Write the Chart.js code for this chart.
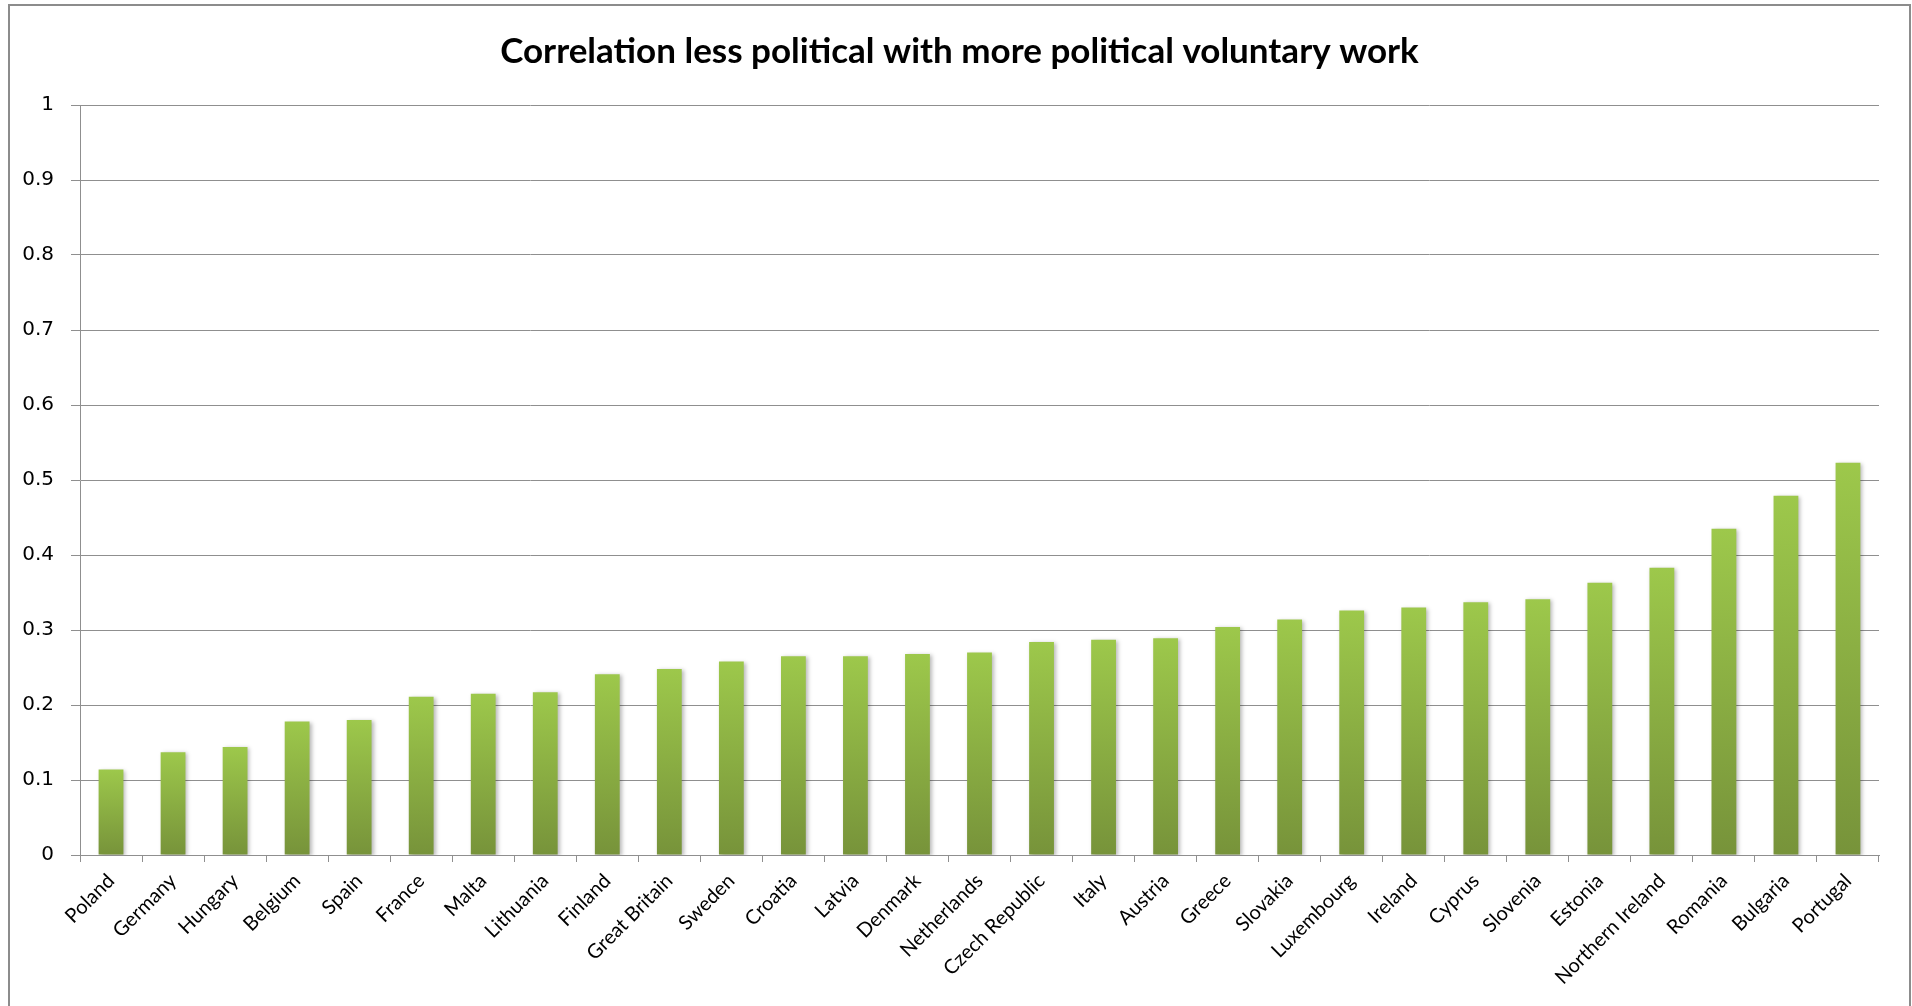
<!DOCTYPE html>
<html>
<head>
<meta charset="utf-8">
<title>Correlation less political with more political voluntary work</title>
<script src="https://cdn.jsdelivr.net/npm/chart.js@4.4.1/dist/chart.umd.min.js"></script>
<style>
    html, body {
        margin: 0;
        padding: 0;
        background: #ffffff;
        overflow: hidden;
    }
    #frame {
        position: absolute;
        left: 8px;
        top: 4px;
        width: 1899px;
        height: 1010px;
        border: 2px solid #8c8c8c;
        background: #ffffff;
    }
    #chart {
        display: block;
    }
</style>
</head>
<body>
<div id="frame">
    <canvas id="chart" width="1899" height="1000"></canvas>
</div>
<script>
'use strict'

let countries = ['Poland', 'Germany', 'Hungary', 'Belgium', 'Spain', 'France', 'Malta', 'Lithuania',
    'Finland', 'Great Britain', 'Sweden', 'Croatia', 'Latvia', 'Denmark', 'Netherlands',
    'Czech Republic', 'Italy', 'Austria', 'Greece', 'Slovakia', 'Luxembourg', 'Ireland',
    'Cyprus', 'Slovenia', 'Estonia', 'Northern Ireland', 'Romania', 'Bulgaria', 'Portugal'];

let correlation = [0.114, 0.137, 0.144, 0.178, 0.180, 0.211, 0.215, 0.217,
    0.241, 0.248, 0.258, 0.265, 0.265, 0.268, 0.270,
    0.284, 0.287, 0.289, 0.304, 0.314, 0.326, 0.330,
    0.337, 0.341, 0.363, 0.383, 0.435, 0.479, 0.523];

let yTickLabels = ['0', '0.1', '0.2', '0.3', '0.4', '0.5', '0.6', '0.7', '0.8', '0.9', '1'];

let titleText = 'Correlation less political with more political voluntary work';

let gridColor = '#8f8f8f';

// each bar gets its own light-to-dark green fade, top to bottom
function barGradient(context) {
    let chart = context.chart;
    let yScale = chart.scales.y;
    if (!chart.chartArea || !yScale) {
        return '#8db644';
    }
    let top = yScale.getPixelForValue(context.raw);
    let base = yScale.getPixelForValue(0);
    if (!isFinite(top) || !isFinite(base) || top === base) {
        return '#8db644';
    }
    let gradient = chart.ctx.createLinearGradient(0, top, 0, base);
    gradient.addColorStop(0, '#9dc84b');
    gradient.addColorStop(1, '#77933a');
    return gradient;
}

// soft shadow behind the bars, like the office chart
const barShadow = {
    id: 'barShadow',
    beforeDatasetsDraw(chart) {
        let ctx = chart.ctx;
        ctx.save();
        ctx.shadowColor = 'rgba(0, 0, 0, 0.28)';
        ctx.shadowBlur = 4;
        ctx.shadowOffsetX = 2;
        ctx.shadowOffsetY = 1;
    },
    afterDatasetsDraw(chart) {
        chart.ctx.restore();
    }
};

const data = {
    labels: countries,
    datasets: [{
        label: 'Correlation',
        data: correlation,
        backgroundColor: barGradient,
        borderWidth: 0,
        barPercentage: 0.4,
        categoryPercentage: 1
    }]
};

const config = {
    type: 'bar',
    data: data,
    plugins: [barShadow],
    options: {
        responsive: false,
        animation: false,
        layout: {
            padding: 0
        },
        plugins: {
            legend: {
                display: false
            },
            tooltip: {
                enabled: false
            },
            title: {
                display: true,
                text: titleText,
                color: '#000000',
                font: {
                    family: 'Lato',
                    size: 35,
                    weight: 'bold'
                },
                padding: {
                    top: 25,
                    bottom: 32
                }
            }
        },
        scales: {
            x: {
                offset: true,
                grid: {
                    display: true,
                    offset: true,
                    drawOnChartArea: false,
                    color: gridColor,
                    tickColor: gridColor,
                    tickLength: 7
                },
                border: {
                    display: true,
                    color: gridColor,
                    width: 1
                },
                ticks: {
                    autoSkip: false,
                    minRotation: 45,
                    maxRotation: 45,
                    padding: 7,
                    color: '#000000',
                    font: {
                        family: 'Lato',
                        size: 20
                    }
                },
                afterFit(scale) {
                    scale.height = 151;
                }
            },
            y: {
                min: 0,
                max: 1,
                ticks: {
                    stepSize: 0.1,
                    padding: 17,
                    color: '#000000',
                    font: {
                        family: 'DejaVu Sans',
                        size: 20
                    },
                    callback: function (value, index) {
                        return yTickLabels[index];
                    }
                },
                grid: {
                    color: gridColor,
                    tickColor: gridColor,
                    tickLength: 9,
                    lineWidth: 1
                },
                border: {
                    display: true,
                    color: gridColor,
                    width: 1
                },
                afterFit(scale) {
                    scale.width = 70;
                }
            },
            // empty axis on the right, only keeps a margin so the title stays centred on the frame
            spacer: {
                type: 'linear',
                position: 'right',
                ticks: {
                    display: false
                },
                grid: {
                    display: false
                },
                border: {
                    display: false
                },
                afterFit(scale) {
                    scale.width = 30;
                }
            }
        }
    }
};

let canvas = document.getElementById('chart');
const chart = new Chart(canvas, config);
</script>
</body>
</html>
